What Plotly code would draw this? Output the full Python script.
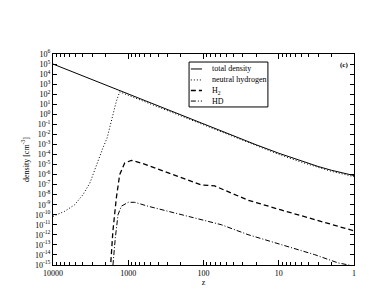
import plotly.graph_objects as go

# ---- data ----
z_total = [10000, 5000, 3000, 2000, 1000, 500, 300, 200, 100, 50, 30, 20, 10, 5, 3, 2, 1]
n_total = [1.0e5, 1.25e4, 2.7e3, 8.0e2, 1.0e2, 1.26e1, 2.7, 8.1e-1, 1.03e-1, 1.33e-2,
           3.0e-3, 9.3e-4, 1.33e-4, 2.2e-5, 6.4e-6, 2.7e-6, 8.0e-7]

z_hi = [10000, 7000, 5150, 4000, 3240, 2740, 2470, 2170, 1910, 1770, 1600, 1440, 1300,
        1000, 500, 300, 200, 100, 50, 30, 20, 10, 5, 3, 2, 1]
n_hi = [7e-11, 2.2e-10, 1e-9, 1e-8, 1.4e-7, 4.6e-6, 4.5e-5, 4.5e-4, 4.4e-3, 4.4e-2,
        0.9, 19.5, 170, 78, 9.8, 2.1, 0.63, 0.08, 1.03e-2, 2.3e-3, 7.2e-4, 1.03e-4,
        1.7e-5, 5.0e-6, 2.1e-6, 6.2e-7]

z_h2 = [1760, 1710, 1600, 1440, 1300, 1115, 912, 671, 446, 297, 200, 107, 71, 26, 9.3, 3.3, 1]
n_h2 = [5e-17, 1e-15, 2.3e-12, 4.7e-9, 9.8e-7, 1.4e-5, 2.6e-5, 1.4e-5, 4.6e-6, 1.45e-6,
        4.6e-7, 9.3e-8, 7.4e-8, 2.95e-9, 3.0e-10, 3.0e-11, 2.5e-12]

z_hd = [1620, 1596, 1486, 1368, 1236, 1000, 820, 547, 297, 197, 102, 58, 25.6, 9.25, 3.33,
        1.62, 1.2, 1.0]
n_hd = [1e-16, 1e-15, 5e-13, 1.0e-10, 7.1e-10, 1.74e-9, 1.74e-9, 7.1e-10, 2.24e-10,
        1.02e-10, 3.2e-11, 1.02e-11, 1.05e-12, 1.05e-13, 1.07e-14, 1.6e-15, 1.07e-15, 8e-16]

series_names = ["total density", "neutral hydrogen", "H<sub>2</sub>", "HD"]

x_tickvals = [10000, 1000, 100, 10, 1]
x_ticktext = ["10000", "1000", "100", "10", "1"]
y_exponents = list(range(6, -16, -1))
y_tickvals = [10.0 ** e for e in y_exponents]
y_ticktext = ["10<sup>%d</sup>" % e for e in y_exponents]

FONT = "Liberation Serif"
styles = [dict(color="black", width=1),
          dict(color="black", width=1, dash="1px,2px"),
          dict(color="black", width=1.3, dash="5px,3px"),
          dict(color="black", width=1, dash="5px,2px,1px,2px")]

fig = go.Figure()
for zs, ns, name, st in zip([z_total, z_hi, z_h2, z_hd], [n_total, n_hi, n_h2, n_hd],
                            series_names, styles):
    fig.add_trace(go.Scatter(x=zs, y=ns, mode="lines", name=name, line=st,
                             showlegend=False))

# manual compact legend (box, line samples, labels)
shapes = [dict(type="rect", xref="paper", yref="paper", x0=0.452, x1=0.714,
               y0=0.749, y1=0.962, line=dict(color="black", width=1),
               fillcolor="white", layer="above")]
annotations = []
row_y = [0.929, 0.877, 0.827, 0.777]
for ry, name, st in zip(row_y, series_names, styles):
    shapes.append(dict(type="line", xref="paper", yref="paper", x0=0.458, x1=0.495,
                       y0=ry, y1=ry, line=st, layer="above"))
    annotations.append(dict(x=0.522, y=ry, xref="paper", yref="paper", text=name,
                            showarrow=False, xanchor="left", yanchor="middle",
                            font=dict(family=FONT, size=8)))
annotations.append(dict(x=0.987, y=0.976, xref="paper", yref="paper", text="<b>(c)</b>",
                        showarrow=False, xanchor="right", yanchor="top",
                        font=dict(family=FONT, size=7)))

fig.update_layout(
    width=391, height=302,
    margin=dict(l=45, r=45, t=46, b=45),
    paper_bgcolor="white", plot_bgcolor="white",
    font=dict(family=FONT, size=8, color="black"),
    showlegend=False,
    shapes=shapes,
    annotations=annotations,
)

fig.update_xaxes(
    type="log", range=[4, 0], autorange=False,
    tickvals=x_tickvals, ticktext=x_ticktext,
    ticks="inside", ticklen=5, tickcolor="black", tickwidth=1,
    minor=dict(ticks="inside", ticklen=3, dtick="D1", tickcolor="black", showgrid=False),
    showline=True, linecolor="black", linewidth=1, mirror="ticks",
    showgrid=False, zeroline=False,
    title=dict(text="z", font=dict(family=FONT, size=8), standoff=2),
    tickfont=dict(family=FONT, size=8),
)
fig.update_yaxes(
    type="log", range=[-15, 6], autorange=False,
    tickvals=y_tickvals, ticktext=y_ticktext,
    ticks="inside", ticklen=4, tickcolor="black", tickwidth=1,
    showline=True, linecolor="black", linewidth=1, mirror="ticks",
    showgrid=False, zeroline=False,
    title=dict(text="density [cm<sup>-3</sup>]", font=dict(family=FONT, size=8), standoff=4),
    tickfont=dict(family=FONT, size=8),
)

fig.write_html("out.html")
